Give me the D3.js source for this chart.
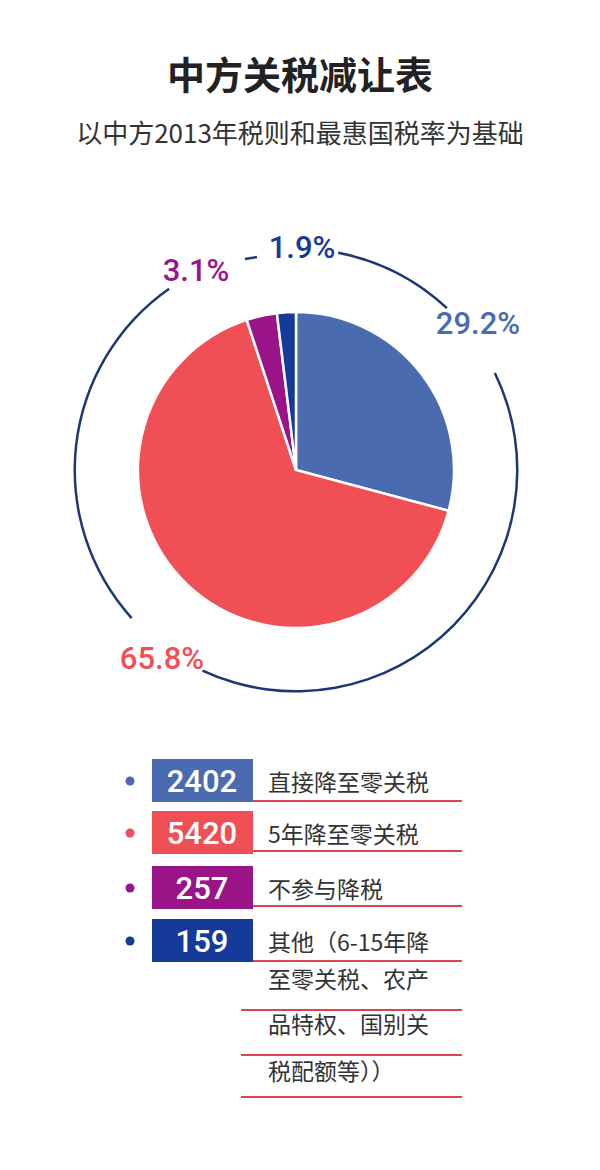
<!DOCTYPE html>
<html><head><meta charset="utf-8">
<script src="https://cdn.jsdelivr.net/npm/d3@7"></script>
<style>body{margin:0;background:#fff}</style></head>
<body><svg id="c" width="600" height="1170"></svg>
<script>
const categories=["直接降至零关税","5年降至零关税","不参与降税","其他（6-15年降"];
const counts=[2402,5420,257,159];
const percents=["29.2%","65.8%","3.1%","1.9%"];
const colors=["#4a6bb0","#ef4f55","#9a1488","#153a9a"];
const extraLines=["至零关税、农产","品特权、国别关","税配额等））"];

const svg=d3.select("#c");
const F="'Noto Sans CJK SC','Noto Sans',sans-serif";
const N="Roboto,'Liberation Sans',sans-serif";
svg.append("text").attr("x",300).attr("y",89).attr("text-anchor","middle").attr("font-family",F).attr("font-weight","bold").attr("font-size",38).attr("fill","#222").text("中方关税减让表");
svg.append("text").attr("x",300).attr("y",143).attr("text-anchor","middle").attr("font-family",F).attr("font-size",26).attr("fill","#333").text("以中方2013年税则和最惠国税率为基础");

const cx=296,cy=470;
const g=svg.append("g").attr("transform",`translate(${cx},${cy})`);
const pie=d3.pie().sort(null)(counts);
const arc=d3.arc().innerRadius(0).outerRadius(158);
g.selectAll("path.s").data(pie).join("path").attr("d",arc).attr("fill",(d,i)=>colors[i]).attr("stroke","#fff").attr("stroke-width",2.5);

const deg=Math.PI/180;
const ring=d3.arc().innerRadius(220).outerRadius(222.5);
[[11,43],[64,205],[228,325]].forEach(([a,b])=>g.append("path").attr("d",ring({startAngle:a*deg,endAngle:b*deg})).attr("fill","#1d3675"));
svg.append("line").attr("x1",245).attr("x2",257).attr("y1",259).attr("y2",257).attr("stroke","#1d3675").attr("stroke-width",2.5);

const labelPos=[[478,334],[162,669],[196,281],[302,258]];
percents.forEach((p,i)=>svg.append("text").attr("x",labelPos[i][0]).attr("y",labelPos[i][1]).attr("text-anchor","middle").attr("font-family",N).attr("font-weight",500).attr("font-size",31).attr("fill",colors[i]).text(p));

const rowY=[759,811,866,919];
const lineY=[801,851,906,961,1010,1055,1097];
lineY.forEach(y=>svg.append("line").attr("x1",241).attr("x2",462).attr("y1",y).attr("y2",y).attr("stroke","#d9444f").attr("stroke-width",1.8));
counts.forEach((c,i)=>{
  const y=rowY[i];
  svg.append("circle").attr("cx",130).attr("cy",y+22).attr("r",4.5).attr("fill",colors[i]);
  svg.append("rect").attr("x",152).attr("y",y).attr("width",101).attr("height",43).attr("fill",colors[i]);
  svg.append("text").attr("x",202).attr("y",y+33).attr("text-anchor","middle").attr("font-family",N).attr("font-weight",500).attr("font-size",31).attr("fill","#fff").text(c);
  svg.append("text").attr("x",268).attr("y",y+32).attr("font-family",F).attr("font-size",23).attr("fill","#333").text(categories[i]);
});
[988,1033,1080].forEach((y,i)=>svg.append("text").attr("x",268).attr("y",y).attr("font-family",F).attr("font-size",23).attr("fill","#333").text(extraLines[i]));
</script></body></html>
